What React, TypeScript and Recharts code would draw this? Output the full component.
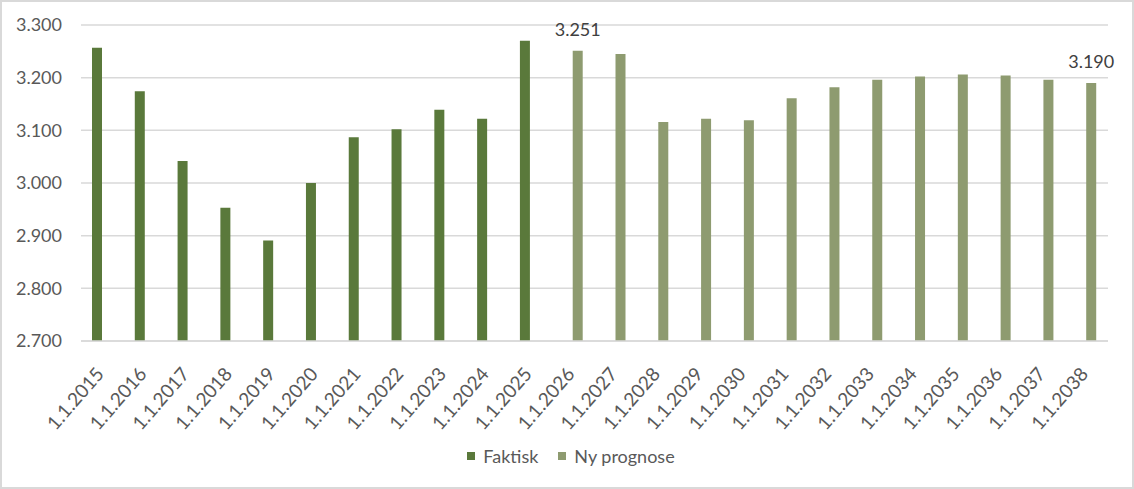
import React from 'react';
import { BarChart, Bar, XAxis, YAxis, CartesianGrid, Legend, LabelList } from 'recharts';

const years = [
  '1.1.2015', '1.1.2016', '1.1.2017', '1.1.2018', '1.1.2019', '1.1.2020',
  '1.1.2021', '1.1.2022', '1.1.2023', '1.1.2024', '1.1.2025', '1.1.2026',
  '1.1.2027', '1.1.2028', '1.1.2029', '1.1.2030', '1.1.2031', '1.1.2032',
  '1.1.2033', '1.1.2034', '1.1.2035', '1.1.2036', '1.1.2037', '1.1.2038',
];

// actual values up to 2025, then the new forecast
const faktisk = [3257, 3174, 3042, 2953, 2891, 3000, 3087, 3102, 3139, 3122, 3270];
const prognose = [3251, 3245, 3116, 3122, 3119, 3161, 3182, 3196, 3202, 3206, 3204, 3196, 3190];

const yTicks = [2700, 2800, 2900, 3000, 3100, 3200, 3300];
const labelledYears = ['1.1.2026', '1.1.2038'];

const data = years.map((year, i) => {
  const p = i >= faktisk.length ? prognose[i - faktisk.length] : null;
  return {
    year,
    faktisk: i < faktisk.length ? faktisk[i] : null,
    prognose: p,
    label: labelledYears.includes(year) ? p : null,
  };
});

const FONT = 'Lato, "Liberation Sans", sans-serif';

const fmt = (v: number) => String(v).replace(/\B(?=(\d{3})+(?!\d))/g, '.');

const XTick = (props: any) => {
  const { x, y, payload } = props;
  return (
    <g transform={`translate(${x - 5},${y + 19})`}>
      <text
        x={0}
        y={0}
        dy={10}
        textAnchor="end"
        fill="#595959"
        fontSize={19}
        fontFamily={FONT}
        transform="rotate(-49)"
      >
        {payload.value}
      </text>
    </g>
  );
};

const renderLegend = (props: any) => {
  const { payload } = props;
  return (
    <div
      style={{
        display: 'flex',
        justifyContent: 'center',
        gap: 20,
        marginLeft: 34,
        fontFamily: FONT,
        fontSize: 18,
        color: '#595959',
      }}
    >
      {payload.map((entry: any, index: number) => (
        <div key={index} style={{ display: 'flex', alignItems: 'center', gap: 8 }}>
          <div style={{ width: 8, height: 8, backgroundColor: entry.color }}></div>
          <span>{entry.value}</span>
        </div>
      ))}
    </div>
  );
};

const valueLabel = (props: any) => {
  const { x, y, width, value } = props;
  if (value == null) return null;
  return (
    <text x={x + width / 2} y={y - 15} textAnchor="middle" fill="#404040" fontSize={18} fontFamily={FONT}>
      {fmt(value)}
    </text>
  );
};

const App: React.FC = () => {
  return (
    <div
      style={{
        position: 'absolute',
        left: 0,
        top: 0,
        width: 1134,
        height: 489,
        boxSizing: 'border-box',
        border: '2px solid #d9d9d9',
        background: '#fff',
      }}
    >
      <div style={{ position: 'absolute', left: -2, top: -2 }}>
        <BarChart
          width={1134}
          height={489}
          data={data}
          margin={{ top: 25, right: 26, left: 0, bottom: 22 }}
          barGap={0}
          barSize={10}
        >
          <CartesianGrid vertical={false} stroke="#d9d9d9" strokeWidth={1.5} />
          <XAxis
            dataKey="year"
            interval={0}
            height={104}
            axisLine={{ stroke: '#d9d9d9', strokeWidth: 1.5 }}
            tickLine={false}
            tick={<XTick />}
          />
          <YAxis
            width={81}
            domain={[2700, 3300]}
            ticks={yTicks}
            tickFormatter={fmt}
            axisLine={false}
            tickLine={false}
            tickMargin={13}
            tick={{ fill: '#595959', fontSize: 18, fontFamily: FONT }}
          />
          <Legend verticalAlign="bottom" content={renderLegend} />
          <Bar dataKey="faktisk" name="Faktisk" fill="#5a793b" isAnimationActive={false} />
          <Bar dataKey="prognose" name="Ny prognose" fill="#8e9b70" isAnimationActive={false}>
            <LabelList dataKey="label" content={valueLabel} />
          </Bar>
        </BarChart>
      </div>
    </div>
  );
};

export default App;
